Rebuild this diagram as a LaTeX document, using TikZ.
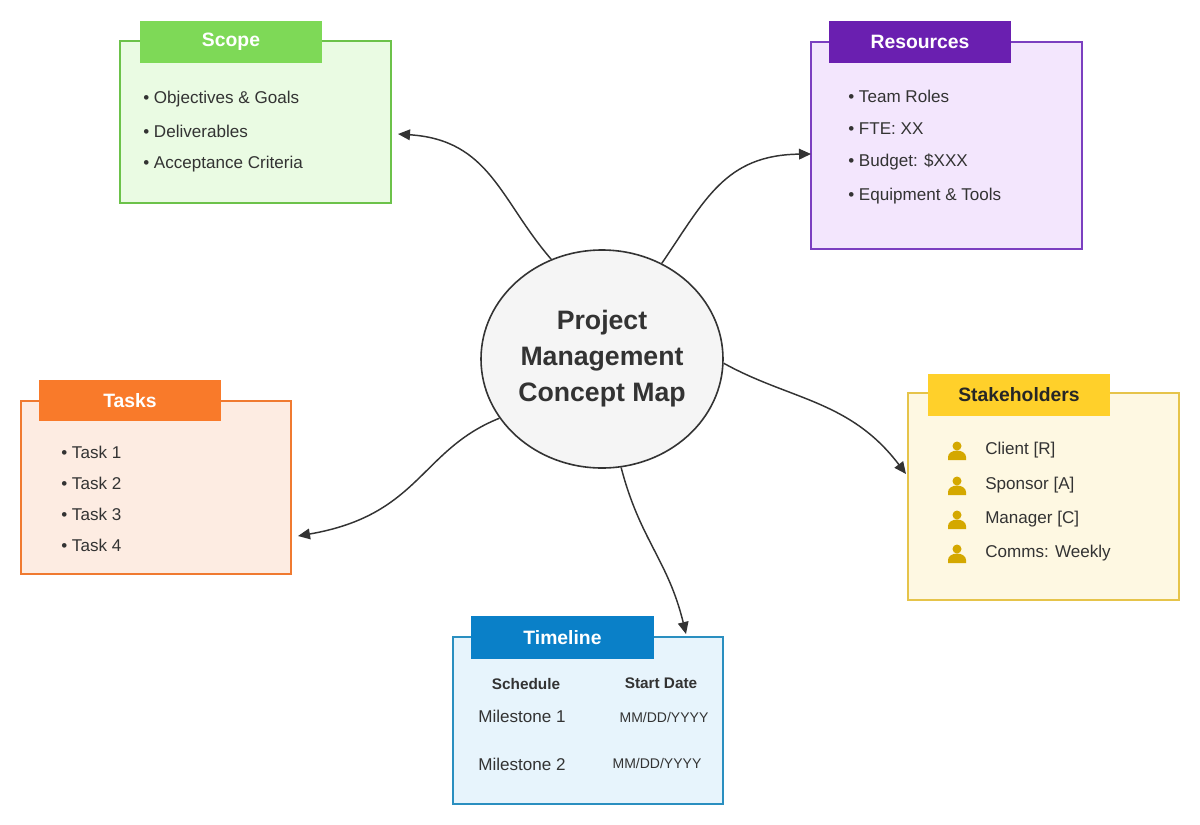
\documentclass[tikz,border=0pt]{standalone}
\usepackage{fontspec}
\setmainfont{Liberation Sans}
\usetikzlibrary{arrows.meta,shapes.geometric}
\definecolor{sgF}{HTML}{EAFBE3}\definecolor{sgB}{HTML}{6CC24A}\definecolor{sgH}{HTML}{7ED957}
\definecolor{rsF}{HTML}{F3E6FD}\definecolor{rsB}{HTML}{7B3FC0}\definecolor{rsH}{HTML}{6A1FB0}
\definecolor{tkF}{HTML}{FDECE2}\definecolor{tkB}{HTML}{F07A30}\definecolor{tkH}{HTML}{F97A2A}
\definecolor{shF}{HTML}{FEF8E2}\definecolor{shB}{HTML}{E6C44A}\definecolor{shH}{HTML}{FFD02A}
\definecolor{tlF}{HTML}{E7F4FC}\definecolor{tlB}{HTML}{2A8FC0}\definecolor{tlH}{HTML}{0A80C8}
\definecolor{txt}{HTML}{333333}\definecolor{gold}{HTML}{D4A800}
\tikzset{
 box/.style={draw, line width=1.2pt, rectangle, inner sep=0},
 head/.style={rectangle, inner sep=0, text=white, font=\fontsize{14.5}{16}\selectfont\bfseries},
 item/.style={anchor=west, inner sep=0, text=txt, font=\fontsize{12.8}{14}\selectfont},
 arr/.style={draw=txt, line width=1.1pt, -{Triangle[length=9pt,width=8pt]}},
 person/.pic={\fill[gold] (0,-4) circle (4.5); \fill[gold] (-9,10) -- (-9,7) arc (180:360:9 and 6.5) -- (9,10) -- cycle;}
}
\begin{document}
\begin{tikzpicture}[x=0.75pt,y=-0.75pt]
\useasboundingbox (0,0) rectangle (1200,825);
% Scope
\node[box, draw=sgB, fill=sgF, minimum width=271*0.75pt, minimum height=162*0.75pt] (scope) at (255.5,122) {};
\node[head, fill=sgH, minimum width=182*0.75pt, minimum height=42*0.75pt] (scopeH) at (231,42) {Scope};
\node[item] (s1) at (143,99) {• Objectives \& Goals};
\node[item] (s2) at (143,131) {• Deliverables};
\node[item] (s3) at (143,164) {• Acceptance Criteria};
% Resources
\node[box, draw=rsB, fill=rsF, minimum width=271*0.75pt, minimum height=207*0.75pt] (res) at (946.5,145.5) {};
\node[head, fill=rsH, minimum width=182*0.75pt, minimum height=42*0.75pt] (resH) at (920,42) {Resources};
\node[item] (r1) at (848,96) {• Team Roles};
\node[item] (r2) at (848,129) {• FTE: XX};
\node[item] (r3) at (848,162) {• Budget: \$XXX};
\node[item] (r4) at (848,196) {• Equipment \& Tools};
% Tasks
\node[box, draw=tkB, fill=tkF, minimum width=270*0.75pt, minimum height=173*0.75pt] (tasks) at (156,487.5) {};
\node[head, fill=tkH, minimum width=182*0.75pt, minimum height=41*0.75pt] (tasksH) at (130,400.5) {Tasks};
\node[item] (t1) at (61,452) {• Task 1};
\node[item] (t2) at (61,483) {• Task 2};
\node[item] (t3) at (61,514) {• Task 3};
\node[item] (t4) at (61,545) {• Task 4};
% Stakeholders
\node[box, draw=shB, fill=shF, minimum width=271*0.75pt, minimum height=207*0.75pt] (stake) at (1043.5,496.5) {};
\node[head, fill=shH, text=black!85, minimum width=182*0.75pt, minimum height=42*0.75pt] (stakeH) at (1019,395) {Stakeholders};
\foreach \y/\t [count=\i] in {450/Client [R],485/Sponsor [A],519/Manager [C],553/Comms: Weekly}{
  \pic at (957,\y) {person};
  \node[item] (k\i) at (985,\y) {\t};
}
% Timeline
\node[box, draw=tlB, fill=tlF, minimum width=270*0.75pt, minimum height=167*0.75pt] (time) at (588,720.5) {};
\node[head, fill=tlH, minimum width=183*0.75pt, minimum height=43*0.75pt] (timeH) at (562.5,637.5) {Timeline};
\node[inner sep=0, font=\fontsize{11.5}{13}\selectfont\bfseries, text=txt] (c1) at (526,684) {Schedule};
\node[inner sep=0, font=\fontsize{11.5}{13}\selectfont\bfseries, text=txt] (c2) at (661,683) {Start Date};
\node[inner sep=0, font=\fontsize{12.8}{14}\selectfont, text=txt] (m1) at (522,716) {Milestone 1};
\node[inner sep=0, font=\fontsize{10.5}{12}\selectfont, text=txt] (d1) at (664,717) {MM/DD/YYYY};
\node[inner sep=0, font=\fontsize{12.8}{14}\selectfont, text=txt] (m2) at (522,764) {Milestone 2};
\node[inner sep=0, font=\fontsize{10.5}{12}\selectfont, text=txt] (d2) at (657,763) {MM/DD/YYYY};
% Center
\node[ellipse, draw=txt, line width=1.2pt, fill=black!4, inner sep=0, minimum width=242*0.75pt, minimum height=218*0.75pt, align=center, text=txt, font=\fontsize{20}{27}\selectfont\bfseries] (ctr) at (602,359) {Project\\Management\\Concept Map};
% connectors
\coordinate (aS) at (398,134); \coordinate (aR) at (811,154);
\coordinate (aK) at (906,474); \coordinate (aT) at (298,536); \coordinate (aL) at (686,634);
\draw[arr] (ctr.117) .. controls (500,200) and (490,140) .. (aS);
\draw[arr] (ctr.58) .. controls (705,200) and (725,155) .. (aR);
\draw[arr] (ctr.-2) .. controls (790,400) and (850,400) .. (aK);
\draw[arr] (ctr.-150) .. controls (420,450) and (420,515) .. (aT);
\draw[arr] (ctr.-80) .. controls (640,540) and (668,560) .. (aL);
\end{tikzpicture}
\end{document}
